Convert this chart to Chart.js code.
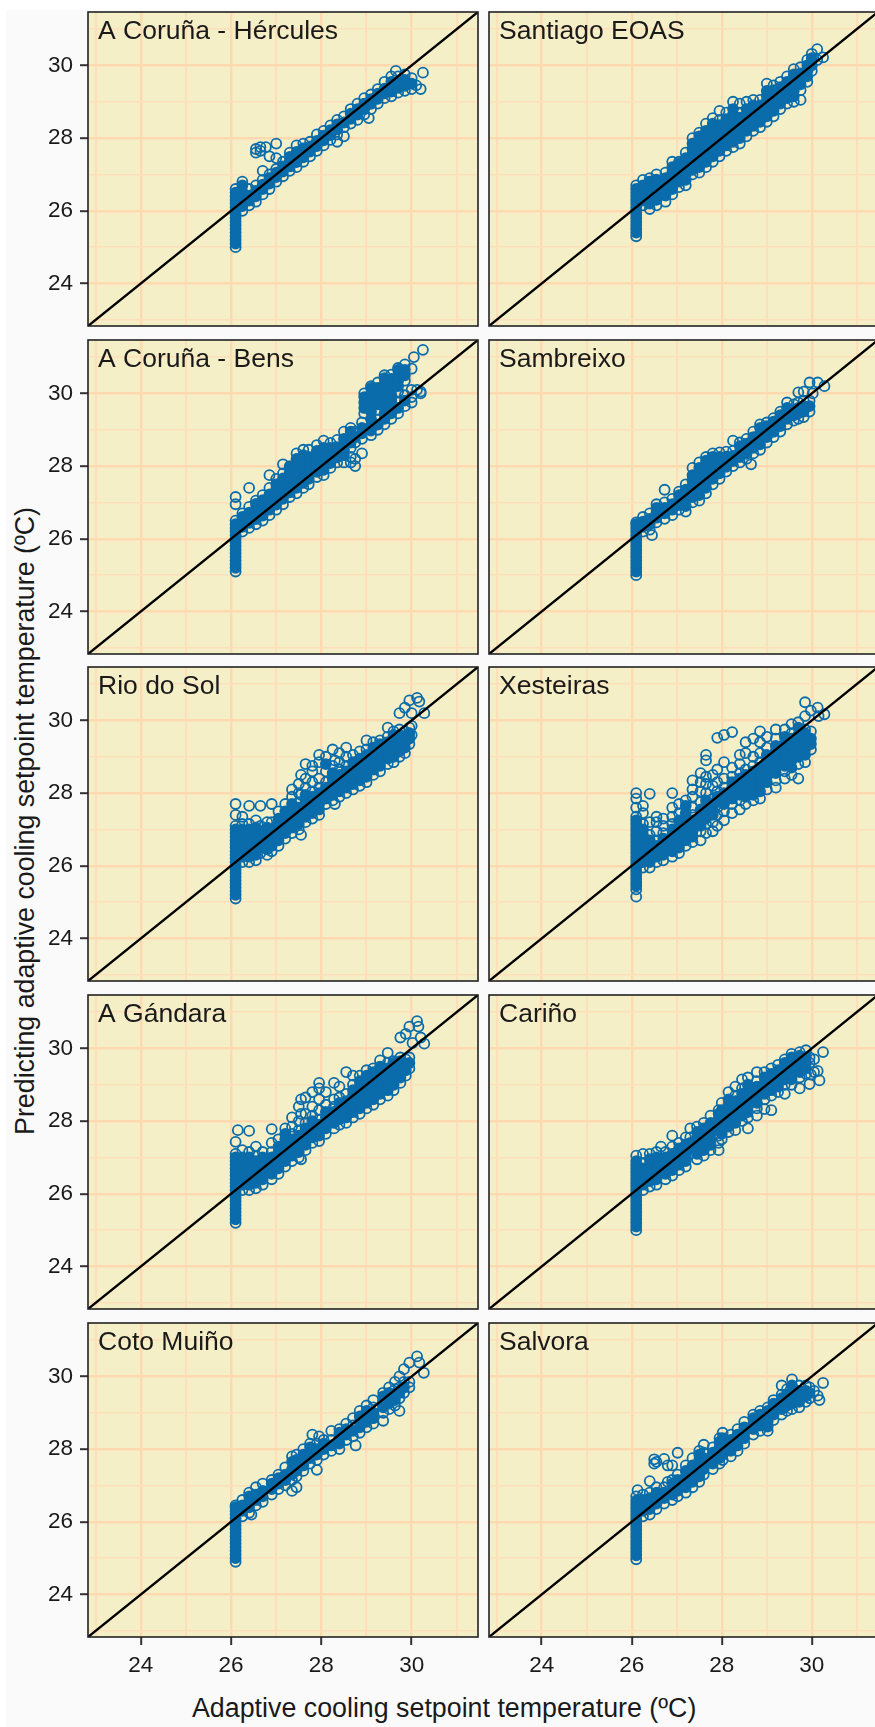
<!DOCTYPE html>
<html>
<head>
<meta charset="utf-8">
<script src="https://cdn.jsdelivr.net/npm/chart.js@4"></script>
<style>
    html, body { margin: 0; padding: 0; background: #fff; }
    #page { position: relative; width: 875px; height: 1727px; overflow: hidden; font-family: "Liberation Sans", Arial, sans-serif; color: #1a1a1a; }
    #sheet { position: absolute; left: 6px; top: 10px; right: 0; bottom: 0; background: #fafafa; }
    canvas { position: absolute; }
    #xTitle { position: absolute; left: 192px; top: 1693px; font-size: 26.8px; white-space: nowrap; }
    #yTitle { position: absolute; left: 25px; top: 821px; font-size: 26.8px; white-space: nowrap; transform: translate(-50%, -50%) rotate(-90deg); }
</style>
</head>
<body>
<div id="page">
    <div id="sheet"></div>
    <div id="xTitle">Adaptive cooling setpoint temperature (ºC)</div>
    <div id="yTitle">Predicting adaptive cooling setpoint temperature (ºC)</div>
</div>
<script>
// each row: x value, then the y values read at that x
const herculesPoints = [
    [26.1, 25, 25.1, 25.2, 25.3, 25.4, 25.5, 25.6, 25.7, 25.8, 25.9, 26, 26.1, 26.2, 26.3, 26.4, 26.5, 26.6],
    [26.25, 26, 26.13, 26.26, 26.39, 26.52, 26.8, 26.7],
    [26.4, 26.15, 26.28, 26.42, 26.6],
    [26.55, 26.25, 26.4, 26.55, 26.7, 27.7, 27.6],
    [26.65, 27.75, 27.65],
    [26.7, 26.45, 26.6, 26.72, 26.85, 27.1],
    [26.77, 27.75],
    [26.85, 26.6, 26.75, 26.9, 27, 27.5],
    [27, 26.8, 26.93, 27.05, 27.15, 27.85, 27.45],
    [27.15, 26.95, 27.08, 27.22, 27.35],
    [27.3, 27.1, 27.22, 27.36, 27.48, 27.6],
    [27.45, 27.2, 27.34, 27.48, 27.62, 27.8],
    [27.6, 27.35, 27.47, 27.6, 27.72, 27.85],
    [27.75, 27.5, 27.63, 27.77, 27.9],
    [27.9, 27.65, 27.78, 27.92, 28.1],
    [28.05, 27.8, 27.94, 28.07, 28.2],
    [28.2, 27.95, 28.08, 28.22, 28.35],
    [28.35, 28.1, 28.24, 28.38, 28.5, 27.9],
    [28.5, 28.3, 28.43, 28.6, 28.05],
    [28.65, 28.4, 28.53, 28.67, 28.8],
    [28.8, 28.5, 28.65, 28.8, 28.95],
    [28.95, 28.65, 28.8, 28.95, 29.1],
    [29.05, 28.55],
    [29.1, 28.8, 28.94, 29.07, 29.2],
    [29.25, 28.95, 29.08, 29.22, 29.35],
    [29.4, 29.1, 29.23, 29.36, 29.55],
    [29.55, 29.15, 29.28, 29.42, 29.55, 29.7],
    [29.65, 29.85],
    [29.7, 29.25, 29.38, 29.52, 29.7],
    [29.85, 29.3, 29.44, 29.6, 29.75],
    [30, 29.35, 29.5, 29.65],
    [30.1, 29.45],
    [30.2, 29.35],
    [30.25, 29.8]
];
const santiagoPoints = [
    [26.1, 25.3, 25.4, 25.5, 25.6, 25.7, 25.8, 25.9, 26, 26.1, 26.2, 26.3, 26.4, 26.5, 26.6, 26.7],
    [26.25, 26.15, 26.28, 26.42, 26.56, 26.7, 26.85],
    [26.4, 26.05, 26.2, 26.35, 26.5, 26.65, 26.8, 26.9],
    [26.55, 26.15, 26.3, 26.44, 26.58, 26.72, 26.86, 27],
    [26.75, 26.25, 26.42, 26.58, 26.74, 26.9, 27.05],
    [26.9, 26.45, 26.6, 26.75, 26.9, 27.05, 27.2, 27.35],
    [27.05, 26.65, 26.8, 26.94, 27.08, 27.22, 27.35, 27.3],
    [27.2, 26.7, 26.85, 27, 27.15, 27.3, 27.45, 27.6],
    [27.35, 27, 27.13, 27.28, 27.42, 27.56, 27.7, 27.85, 28],
    [27.5, 27.05, 27.2, 27.34, 27.48, 27.62, 27.76, 27.9, 28.05, 28.15],
    [27.65, 27.2, 27.35, 27.5, 27.64, 27.78, 27.92, 28.06, 28.2, 28.4],
    [27.8, 27.35, 27.5, 27.65, 27.8, 27.94, 28.08, 28.22, 28.4, 28.55],
    [27.95, 27.5, 27.65, 27.8, 27.94, 28.08, 28.22, 28.36, 28.5, 28.75],
    [28.1, 27.65, 27.8, 27.95, 28.1, 28.25, 28.38, 28.52, 28.7],
    [28.25, 27.75, 27.9, 28.05, 28.2, 28.35, 28.5, 28.65, 28.8, 29],
    [28.4, 27.85, 28, 28.14, 28.28, 28.42, 28.56, 28.7, 28.95],
    [28.55, 28.05, 28.2, 28.35, 28.5, 28.65, 28.8, 29],
    [28.7, 28.2, 28.34, 28.48, 28.62, 28.76, 28.9, 29.05],
    [28.85, 28.3, 28.45, 28.6, 28.75, 28.9, 29.05],
    [29, 28.45, 28.6, 28.74, 28.88, 29.02, 29.16, 29.3, 29.5],
    [29.15, 28.6, 28.75, 28.9, 29.05, 29.2, 29.32, 29.45],
    [29.3, 28.8, 28.95, 29.1, 29.25, 29.4, 29.55],
    [29.45, 28.95, 29.1, 29.25, 29.4, 29.55, 29.7],
    [29.6, 29, 29.15, 29.3, 29.45, 29.6, 29.75, 29.9],
    [29.75, 29.05, 29.32, 29.48, 29.62, 29.78, 29.95],
    [29.9, 29.55, 29.7, 29.85, 30, 30.15],
    [30, 29.85, 30, 30.2, 30.32],
    [30.12, 30.45, 30.15],
    [30.25, 30.22]
];
const bensPoints = [
    [26.1, 25.1, 25.2, 25.3, 25.4, 25.5, 25.6, 25.7, 25.8, 25.9, 26, 26.1, 26.2, 26.3, 26.4, 26.5, 26.95, 27.15],
    [26.25, 26.2, 26.33, 26.46, 26.6, 26.7],
    [26.4, 26.3, 26.44, 26.58, 26.72, 26.88, 27.4],
    [26.55, 26.4, 26.54, 26.68, 26.82, 26.96, 27.05],
    [26.7, 26.5, 26.64, 26.78, 26.92, 27.06, 27.2],
    [26.85, 26.65, 26.8, 26.94, 27.08, 27.22, 27.4, 27.75],
    [27, 26.8, 26.94, 27.08, 27.22, 27.36, 27.5, 27.65],
    [27.15, 26.95, 27.1, 27.24, 27.38, 27.52, 27.66, 27.8, 28.05],
    [27.3, 27.15, 27.28, 27.42, 27.56, 27.7, 27.84, 27.98, 28],
    [27.45, 27.25, 27.4, 27.55, 27.7, 27.85, 28, 28.2, 28.35],
    [27.6, 27.4, 27.54, 27.68, 27.82, 27.96, 28.12, 28.3, 28.45],
    [27.72, 27.5, 27.65, 27.8, 27.95, 28.1, 28.25, 28.45],
    [27.9, 27.7, 27.84, 27.98, 28.12, 28.26, 28.42, 28.58],
    [28.05, 27.75, 27.9, 28.05, 28.2, 28.35, 28.5, 28.7],
    [28.2, 27.95, 28.08, 28.22, 28.36, 28.5, 28.64],
    [28.35, 28.1, 28.24, 28.38, 28.52, 28.72],
    [28.5, 28.1, 28.3, 28.45, 28.6, 28.75, 28.95],
    [28.65, 28.1, 28.25, 28.5, 28.65, 28.8, 28.95, 29.05],
    [28.75, 28, 28.2, 28.65, 28.8, 28.95],
    [28.9, 28.35, 28.75, 28.9, 29.05, 29.2],
    [28.95, 29.45, 29.6, 29.75, 29.9, 30],
    [29.1, 28.85, 28.98, 29.12, 29.3, 29.5, 29.66, 29.82, 29.98, 30.15, 30.2],
    [29.25, 29, 29.14, 29.28, 29.55, 29.7, 29.85, 30, 30.15, 30.3],
    [29.4, 29.15, 29.3, 29.45, 29.62, 29.78, 29.94, 30.1, 30.26, 30.42, 30.5],
    [29.55, 29.3, 29.45, 29.6, 29.8, 29.95, 30.1, 30.25, 30.4, 30.52],
    [29.7, 29.45, 29.6, 29.75, 30.05, 30.2, 30.35, 30.5, 30.65, 30.7],
    [29.85, 29.65, 29.8, 29.95, 30.35, 30.5, 30.65, 30.8],
    [30, 29.75, 29.9, 30.1, 30.68],
    [30.05, 31],
    [30.12, 30.1],
    [30.2, 30, 30.05],
    [30.25, 31.2]
];
const sambreixoPoints = [
    [26.1, 25, 25.1, 25.2, 25.3, 25.4, 25.5, 25.6, 25.7, 25.8, 25.9, 26, 26.1, 26.2, 26.3, 26.4, 26.45],
    [26.25, 26.2, 26.33, 26.47, 26.6],
    [26.4, 26.25, 26.4, 26.55, 26.7],
    [26.45, 26.1],
    [26.55, 26.45, 26.58, 26.72, 26.85, 26.95],
    [26.73, 26.55, 26.7, 26.85, 27, 27.35],
    [26.9, 26.65, 26.8, 26.95, 27.1],
    [27.05, 26.8, 26.93, 27.06, 27.2, 27.3],
    [27.2, 26.75, 26.9, 27.05, 27.2, 27.35, 27.5],
    [27.35, 27, 27.15, 27.3, 27.45, 27.6, 27.75, 27.95],
    [27.5, 27.05, 27.2, 27.35, 27.5, 27.65, 27.8, 27.95, 28.1],
    [27.65, 27.25, 27.4, 27.55, 27.7, 27.85, 28, 28.15, 28.25],
    [27.8, 27.5, 27.65, 27.8, 27.95, 28.1, 28.25, 28.35],
    [27.95, 27.65, 27.8, 27.95, 28.1, 28.25, 28.38],
    [28.1, 27.85, 27.98, 28.12, 28.26, 28.4],
    [28.25, 28, 28.14, 28.28, 28.42, 28.7],
    [28.4, 28.1, 28.25, 28.4, 28.55, 28.65],
    [28.55, 28.2, 28.34, 28.48, 28.62, 28.75],
    [28.65, 28.05],
    [28.7, 28.35, 28.5, 28.65, 28.8, 28.95],
    [28.85, 28.45, 28.6, 28.75, 28.9, 29.05, 29.15],
    [29, 28.65, 28.8, 28.95, 29.1, 29.2],
    [29.15, 28.8, 28.94, 29.08, 29.22, 29.32],
    [29.3, 28.95, 29.1, 29.25, 29.4, 29.5],
    [29.45, 29.15, 29.3, 29.45, 29.6, 29.75],
    [29.6, 29.25, 29.4, 29.55, 29.7],
    [29.7, 29.3, 29.45, 29.6, 29.75, 30.03],
    [29.82, 29.35, 29.5, 29.65, 29.8, 30.05],
    [29.95, 29.5, 29.65, 29.8, 30.3],
    [30.02, 30],
    [30.13, 30.3],
    [30.28, 30.2]
];
const rioPoints = [
    [26.1, 25.1, 25.2, 25.3, 25.4, 25.5, 25.6, 25.7, 25.8, 25.9, 26, 26.1, 26.2, 26.3, 26.4, 26.5, 26.6, 26.7, 26.8, 26.9, 27, 27.1, 27.4, 27.7],
    [26.25, 26.1, 26.25, 26.4, 26.55, 26.7, 26.85, 27, 27.15, 27.35],
    [26.4, 26.1, 26.25, 26.4, 26.55, 26.7, 26.85, 27, 27.15, 27.65],
    [26.55, 26.15, 26.3, 26.45, 26.6, 26.75, 26.9, 27.05, 27.25],
    [26.65, 26.35, 26.5, 26.65, 26.8, 26.95, 27.1, 27.65],
    [26.8, 26.3, 26.45, 26.6, 26.75, 26.9, 27.05, 27.2],
    [26.9, 26.4, 26.55, 26.7, 26.85, 27, 27.2, 27.7],
    [27.05, 26.55, 26.7, 26.85, 27, 27.15, 27.3, 27.5],
    [27.2, 26.75, 26.9, 27.05, 27.2, 27.35, 27.5, 27.7],
    [27.35, 26.9, 27.05, 27.2, 27.35, 27.5, 27.7, 27.9, 28.1],
    [27.5, 27, 27.15, 27.3, 27.45, 27.6, 27.75, 28, 28.25],
    [27.55, 26.85, 27.95, 28.5],
    [27.65, 27.2, 27.35, 27.5, 27.65, 27.8, 27.95, 28.15, 28.4, 28.8],
    [27.8, 27.3, 27.45, 27.6, 27.75, 27.9, 28.05, 28.3, 28.6, 28.75],
    [27.95, 27.4, 27.55, 27.7, 27.85, 28, 28.15, 28.4, 28.85, 29.05],
    [28.1, 27.7, 27.85, 28, 28.15, 28.3, 28.6, 28.8, 29],
    [28.25, 27.8, 27.95, 28.1, 28.25, 28.4, 28.55, 28.75, 29.2],
    [28.3, 27.7, 28.9],
    [28.4, 27.9, 28.05, 28.2, 28.35, 28.5, 28.65, 28.85, 29.1],
    [28.55, 28, 28.15, 28.3, 28.45, 28.6, 28.75, 29, 29.25],
    [28.7, 28.1, 28.25, 28.4, 28.55, 28.7, 28.85, 29.05],
    [28.85, 28.2, 28.35, 28.5, 28.65, 28.8, 28.95, 29.15],
    [29, 28.3, 28.45, 28.6, 28.75, 28.9, 29.05, 29.2, 29.45],
    [29.15, 28.5, 28.65, 28.8, 28.95, 29.1, 29.25, 29.4],
    [29.3, 28.6, 28.75, 28.9, 29.05, 29.2, 29.35, 29.45],
    [29.47, 28.8, 28.95, 29.1, 29.25, 29.4, 29.55, 29.8],
    [29.6, 28.85, 29, 29.15, 29.3, 29.45, 29.6, 29.7],
    [29.73, 29, 29.15, 29.3, 29.45, 29.6, 29.75, 30.2],
    [29.85, 29.1, 29.25, 29.4, 29.55, 29.7, 30.35],
    [29.95, 29.35, 29.5, 29.65, 29.8, 30.55],
    [30, 29.6, 29.85, 30.2],
    [30.12, 30.62],
    [30.17, 30.52],
    [30.28, 30.2]
];
const xesteirasPoints = [
    [26.1, 25.15, 25.35, 25.45, 25.55, 25.65, 25.75, 25.85, 25.95, 26.05, 26.15, 26.25, 26.35, 26.45, 26.55, 26.65, 26.75, 26.85, 26.95, 27.05, 27.15, 27.25, 27.35, 27.6, 27.85, 28],
    [26.25, 25.95, 26.1, 26.25, 26.4, 26.55, 26.7, 26.85, 27, 27.15, 27.45, 27.65],
    [26.4, 25.95, 26.1, 26.25, 26.4, 26.55, 26.7, 26.85, 27.2, 27.98],
    [26.55, 26.1, 26.25, 26.4, 26.55, 26.7, 26.95, 27.2, 27.35],
    [26.7, 26.15, 26.3, 26.45, 26.6, 26.75, 26.9, 27.1, 27.3],
    [26.9, 26.25, 26.4, 26.55, 26.7, 26.85, 27, 27.15, 27.35, 27.6, 28],
    [27.05, 26.35, 26.5, 26.65, 26.8, 26.95, 27.1, 27.25, 27.45, 27.7],
    [27.2, 26.55, 26.7, 26.85, 27, 27.15, 27.3, 27.45, 27.65, 27.8],
    [27.35, 26.65, 26.8, 26.95, 27.1, 27.25, 27.4, 27.6, 27.9, 28.1, 28.35],
    [27.53, 26.7, 26.95, 27.1, 27.25, 27.4, 27.55, 27.75, 28.05, 28.3, 28.55],
    [27.65, 26.9, 27.15, 27.3, 27.45, 27.6, 27.8, 28, 28.25, 28.45, 28.9, 29.05],
    [27.8, 26.95, 27.2, 27.4, 27.55, 27.7, 27.85, 28.2, 28.5],
    [27.9, 27.1, 27.4, 27.6, 27.75, 27.9, 28.05, 28.3, 28.65, 29.52],
    [28.05, 27.25, 27.5, 27.7, 27.85, 28, 28.15, 28.4, 28.85, 29.6],
    [28.23, 27.45, 27.7, 27.85, 28, 28.15, 28.3, 28.45, 28.7, 29.68],
    [28.4, 27.55, 27.8, 27.95, 28.1, 28.25, 28.4, 28.55, 28.8, 29.05],
    [28.53, 27.7, 27.9, 28.05, 28.2, 28.35, 28.5, 28.65, 29.1, 29.4],
    [28.7, 27.8, 27.95, 28.15, 28.3, 28.45, 28.6, 28.75, 29, 29.5],
    [28.85, 27.85, 28.05, 28.25, 28.4, 28.55, 28.7, 28.85, 29.1, 29.4, 29.7],
    [29, 28.1, 28.3, 28.45, 28.6, 28.75, 28.9, 29.05, 29.25, 29.55],
    [29.2, 28.15, 28.35, 28.55, 28.7, 28.85, 29, 29.15, 29.3, 29.5, 29.75],
    [29.4, 28.4, 28.6, 28.75, 28.9, 29.05, 29.2, 29.35, 29.55, 29.75],
    [29.55, 28.5, 28.7, 28.9, 29.05, 29.2, 29.35, 29.5, 29.65, 29.9],
    [29.7, 28.4, 28.8, 29, 29.15, 29.3, 29.45, 29.6, 29.8, 29.95],
    [29.85, 28.85, 29.05, 29.2, 29.35, 29.5, 29.65, 29.75, 30.12, 30.5],
    [29.98, 29.2, 29.35, 29.5, 29.7, 30.27],
    [30.13, 30.35],
    [30.15, 30.12],
    [30.28, 30.17]
];
const gandaraPoints = [
    [26.1, 25.2, 25.3, 25.4, 25.5, 25.6, 25.7, 25.8, 25.9, 26, 26.1, 26.2, 26.3, 26.4, 26.5, 26.6, 26.7, 26.8, 26.9, 27, 27.1, 27.43],
    [26.15, 27.75],
    [26.25, 26.1, 26.25, 26.4, 26.55, 26.7, 26.85, 27, 27.2],
    [26.4, 26.1, 26.25, 26.4, 26.55, 26.7, 26.85, 27, 27.15, 27.73],
    [26.55, 26.15, 26.3, 26.45, 26.6, 26.75, 26.9, 27.05, 27.3],
    [26.7, 26.25, 26.4, 26.55, 26.7, 26.85, 27, 27.15],
    [26.9, 26.4, 26.55, 26.7, 26.85, 27, 27.15, 27.4, 27.78],
    [27.05, 26.55, 26.7, 26.85, 27, 27.15, 27.3, 27.5],
    [27.2, 26.75, 26.9, 27.05, 27.2, 27.35, 27.5, 27.65, 27.8],
    [27.35, 26.9, 27.05, 27.2, 27.35, 27.5, 27.65, 27.85, 28.1],
    [27.5, 27, 27.15, 27.3, 27.45, 27.6, 27.75, 28, 28.4],
    [27.55, 26.95, 28.2, 28.6],
    [27.65, 27.2, 27.35, 27.5, 27.65, 27.8, 27.95, 28.2, 28.65],
    [27.8, 27.4, 27.55, 27.7, 27.85, 28, 28.15, 28.4, 28.8],
    [27.95, 27.45, 27.6, 27.75, 27.9, 28.05, 28.3, 28.6, 28.9, 29.05],
    [28.1, 27.65, 27.8, 27.95, 28.1, 28.25, 28.45, 28.8],
    [28.28, 27.8, 27.95, 28.1, 28.25, 28.4, 28.6, 29.05],
    [28.4, 27.9, 28.05, 28.2, 28.35, 28.5, 28.65, 28.95],
    [28.55, 27.95, 28.1, 28.25, 28.4, 28.55, 28.75, 29.35],
    [28.7, 28.1, 28.25, 28.4, 28.55, 28.7, 28.85, 29, 29.25],
    [28.85, 28.2, 28.35, 28.5, 28.65, 28.8, 28.95, 29.1, 29.25],
    [29, 28.35, 28.5, 28.65, 28.8, 28.95, 29.1, 29.25, 29.4],
    [29.15, 28.45, 28.6, 28.75, 28.9, 29.05, 29.2, 29.35, 29.45],
    [29.3, 28.6, 28.75, 28.9, 29.05, 29.2, 29.35, 29.5, 29.67],
    [29.47, 28.7, 28.85, 29, 29.15, 29.3, 29.45, 29.6, 29.88],
    [29.6, 28.85, 29, 29.15, 29.3, 29.45, 29.6, 29.65],
    [29.75, 29.05, 29.2, 29.35, 29.5, 29.65, 29.75, 30.3],
    [29.87, 29.25, 29.4, 29.55, 29.7, 30.4],
    [29.95, 29.45, 29.6, 29.75, 30.6],
    [30.02, 30.15],
    [30.12, 30.75],
    [30.15, 30.6],
    [30.2, 30.3],
    [30.28, 30.13]
];
const carinoPoints = [
    [26.1, 25, 25.1, 25.2, 25.3, 25.4, 25.5, 25.6, 25.7, 25.8, 25.9, 26, 26.1, 26.2, 26.3, 26.4, 26.5, 26.6, 26.7, 26.8, 26.9, 27.05],
    [26.25, 26.1, 26.25, 26.4, 26.55, 26.7, 26.85, 27.1],
    [26.4, 26.2, 26.35, 26.5, 26.65, 26.8, 26.95, 27.1],
    [26.55, 26.25, 26.4, 26.55, 26.7, 26.85, 27, 27.15],
    [26.65, 27.3],
    [26.75, 26.4, 26.55, 26.7, 26.85, 27, 27.15],
    [26.9, 26.5, 26.65, 26.8, 26.95, 27.1, 27.3, 27.6],
    [27.05, 26.65, 26.8, 26.95, 27.1, 27.25, 27.4],
    [27.2, 26.75, 26.9, 27.05, 27.2, 27.35, 27.55],
    [27.3, 27.1, 27.25, 27.4, 27.55, 27.8],
    [27.45, 26.95, 27.1, 27.25, 27.4, 27.55, 27.7, 27.85],
    [27.6, 27.05, 27.2, 27.35, 27.5, 27.65, 27.8, 27.95],
    [27.75, 27.2, 27.35, 27.5, 27.65, 27.8, 27.95, 28.15],
    [27.93, 27.2, 27.4, 27.6, 27.75, 27.9, 28.05, 28.2, 28.3],
    [28, 27.5, 27.65, 27.8, 28, 28.15, 28.3, 28.5],
    [28.15, 27.7, 27.85, 28, 28.15, 28.3, 28.45, 28.6, 28.8],
    [28.3, 27.75, 27.95, 28.1, 28.25, 28.4, 28.55, 28.7, 28.95],
    [28.45, 28, 28.15, 28.3, 28.45, 28.6, 28.75, 28.9, 29.15],
    [28.58, 27.8, 28.1, 28.25, 28.4, 28.55, 28.7, 28.85, 29, 29.2],
    [28.78, 28.15, 28.35, 28.5, 28.65, 28.8, 28.95, 29.1, 29.35],
    [28.95, 28.33, 28.6, 28.75, 28.9, 29.05, 29.2, 29.35],
    [29.1, 28.3, 28.7, 28.85, 29, 29.15, 29.3, 29.45],
    [29.25, 28.8, 28.95, 29.1, 29.25, 29.4, 29.55],
    [29.4, 28.75, 29, 29.15, 29.3, 29.45, 29.6, 29.7],
    [29.55, 29, 29.15, 29.3, 29.45, 29.6, 29.75, 29.85],
    [29.73, 28.9, 29.2, 29.35, 29.5, 29.65, 29.8, 29.9],
    [29.87, 29.3, 29.45, 29.6, 29.75, 29.95],
    [29.95, 29.02, 29.6, 29.75],
    [29.98, 29.28],
    [30.05, 29.35, 29.7],
    [30.13, 29.38],
    [30.17, 29.12],
    [30.25, 29.9]
];
const cotoPoints = [
    [26.1, 24.9, 25, 25.1, 25.2, 25.3, 25.4, 25.5, 25.6, 25.7, 25.8, 25.9, 26, 26.1, 26.2, 26.3, 26.4, 26.45],
    [26.25, 26.15, 26.3, 26.45, 26.6],
    [26.4, 26.25, 26.4, 26.55, 26.7, 26.8],
    [26.45, 26.2],
    [26.55, 26.45, 26.6, 26.75, 26.95],
    [26.7, 26.55, 26.7, 26.85, 27.05],
    [26.9, 26.75, 26.9, 27.05, 27.15],
    [27.05, 26.9, 27.05, 27.2, 27.3],
    [27.2, 27, 27.15, 27.3, 27.5],
    [27.35, 26.85, 27.15, 27.3, 27.45, 27.65, 27.8],
    [27.45, 26.95, 27.25, 27.4, 27.55, 27.7, 27.85],
    [27.6, 27.4, 27.55, 27.7, 27.85, 28],
    [27.75, 27.6, 27.75, 27.9, 28.05, 28.15],
    [27.8, 28.4],
    [27.9, 27.43, 27.7, 27.85, 28, 28.15],
    [27.95, 28.35],
    [28.05, 27.85, 28, 28.15, 28.25],
    [28.22, 27.95, 28.1, 28.25, 28.5],
    [28.4, 28, 28.15, 28.3, 28.45, 28.55],
    [28.55, 28.25, 28.4, 28.55, 28.7],
    [28.7, 28.35, 28.5, 28.65, 28.85],
    [28.76, 28.1],
    [28.85, 28.45, 28.6, 28.75, 28.9, 29.05],
    [29, 28.6, 28.75, 28.9, 29.05, 29.2],
    [29.15, 28.7, 28.85, 29, 29.15, 29.35],
    [29.37, 28.78, 29, 29.15, 29.3, 29.45, 29.55],
    [29.5, 29.1, 29.25, 29.4, 29.55, 29.7],
    [29.63, 29.2, 29.35, 29.5, 29.65, 29.85],
    [29.73, 29.05, 29.4, 29.55, 29.7, 30],
    [29.83, 29.55, 29.7, 29.85, 30.2],
    [29.95, 29.7, 29.85, 30.38],
    [30.12, 30.55],
    [30.17, 30.38],
    [30.27, 30.1]
];
const salvoraPoints = [
    [26.1, 24.97, 25.08, 25.18, 25.28, 25.38, 25.48, 25.58, 25.68, 25.78, 25.88, 25.98, 26.08, 26.18, 26.28, 26.38, 26.48, 26.58, 26.7],
    [26.13, 26.87],
    [26.25, 26.15, 26.3, 26.45, 26.6, 26.75],
    [26.4, 26.2, 26.35, 26.5, 26.65, 26.8, 27.12],
    [26.5, 27.72, 27.6],
    [26.55, 26.35, 26.5, 26.65, 26.8, 26.95, 27.65],
    [26.72, 26.5, 26.65, 26.8, 26.95, 27.73],
    [26.8, 27.55, 27.1],
    [26.9, 26.6, 26.75, 26.9, 27.05, 27.15, 27.55],
    [27.02, 26.7, 26.85, 27, 27.15, 27.3, 27.9],
    [27.2, 26.8, 26.95, 27.1, 27.25, 27.4, 27.55],
    [27.35, 26.95, 27.1, 27.25, 27.4, 27.55, 27.75],
    [27.5, 27.1, 27.25, 27.4, 27.55, 27.7, 27.85, 27.95],
    [27.6, 27.3, 27.45, 27.6, 27.75, 27.9, 28.12],
    [27.8, 27.45, 27.6, 27.75, 27.9, 28.05],
    [27.95, 27.6, 27.75, 27.9, 28.05, 28.2, 28.3],
    [28.02, 27.7, 27.85, 28, 28.15, 28.3, 28.45],
    [28.2, 27.8, 27.95, 28.1, 28.25, 28.4],
    [28.35, 27.95, 28.1, 28.25, 28.4, 28.55],
    [28.5, 28.15, 28.3, 28.45, 28.6, 28.75],
    [28.7, 28.4, 28.55, 28.7, 28.85, 28.95],
    [28.85, 28.5, 28.65, 28.8, 28.95, 29.05],
    [29.02, 28.5, 28.62, 28.75, 28.9, 29.05, 29.15],
    [29.15, 28.8, 28.95, 29.1, 29.25, 29.35],
    [29.33, 28.95, 29.1, 29.25, 29.4, 29.5, 29.75],
    [29.45, 29.05, 29.2, 29.35, 29.5, 29.65],
    [29.56, 29.1, 29.25, 29.4, 29.55, 29.75, 29.92],
    [29.72, 29.15, 29.3, 29.45, 29.6, 29.75],
    [29.87, 29.3, 29.45, 29.6, 29.75],
    [29.95, 29.4, 29.55, 29.7],
    [30.05, 29.6],
    [30.13, 29.47],
    [30.17, 29.35],
    [30.25, 29.82]
];

const panelNames = ["A Coruña - Hércules", "Santiago EOAS", "A Coruña - Bens", "Sambreixo", "Rio do Sol", "Xesteiras", "A Gándara", "Cariño", "Coto Muiño", "Salvora"];
const panelPoints = [herculesPoints, santiagoPoints, bensPoints, sambreixoPoints, rioPoints, xesteirasPoints, gandaraPoints, carinoPoints, cotoPoints, salvoraPoints];
const axisMin = 22.83;
const axisMax = 31.47;
const rowTops = [12, 340, 667, 995, 1323];
const panelHeight = 314;
const markColor = "#0a6cab";

const frameAndName = {
    id: "frameAndName",
    beforeDraw(chart) {
        const { ctx, chartArea: a } = chart;
        ctx.save();
        ctx.fillStyle = "#f5efc8";
        ctx.fillRect(a.left, a.top, a.width, a.height);
        ctx.restore();
    },
    afterDraw(chart, args, opts) {
        const { ctx, chartArea: a } = chart;
        ctx.save();
        ctx.strokeStyle = "#222";
        ctx.lineWidth = 1.6;
        ctx.strokeRect(a.left, a.top, a.width, a.height);
        ctx.fillStyle = "#1a1a1a";
        ctx.font = '26.5px "Liberation Sans"';
        ctx.fillText(opts.name, a.left + 10, a.top + 27);
        ctx.restore();
    }
};

// marks with close neighbours on both sides sit inside the solid mass of the cloud
function toPoints(rows) {
    return rows.flatMap(row => {
        const ys = row.slice(1).sort((a, b) => a - b);
        return ys.map((y, k) => ({
            x: row[0],
            y: y,
            inner: k > 0 && k < ys.length - 1 && y - ys[k - 1] < 0.2 && ys[k + 1] - y < 0.2
        }));
    });
}

function makeScale(showLabels, size, isX) {
    return {
        type: "linear",
        min: axisMin,
        max: axisMax,
        afterFit: scale => {
            if (isX) scale.height = size;
            else scale.width = size;
            scale.paddingTop = 0;
            scale.paddingBottom = 0;
            scale.paddingLeft = 0;
            scale.paddingRight = 0;
        },
        border: { display: false },
        grid: {
            color: ctx => ctx.tick.value % 2 === 0 ? "#ffd9b0" : "#fddfba",
            lineWidth: ctx => ctx.tick.value % 2 === 0 ? 2.4 : (isX ? 2.2 : 1.6),
            drawTicks: showLabels,
            tickLength: 8,
            tickColor: ctx => ctx.tick.value % 2 === 0 ? "#333" : "rgba(0,0,0,0)",
            tickWidth: 2
        },
        ticks: {
            display: showLabels,
            stepSize: 1,
            includeBounds: false,
            autoSkip: false,
            maxRotation: 0,
            padding: 7,
            color: "#1a1a1a",
            font: { family: '"Liberation Sans"', size: 22.5 },
            callback: value => value % 2 === 0 ? value : ""
        }
    };
}

panelNames.forEach((name, i) => {
    const col = i % 2;
    const row = Math.floor(i / 2);
    const isBottom = row === rowTops.length - 1;
    const yAxisWidth = col === 0 ? 56 : 0;
    const xAxisHeight = isBottom ? 50 : 0;

    const canvas = document.createElement("canvas");
    const width = col === 0 ? 450 : 393;
    const height = panelHeight + xAxisHeight + 4;
    canvas.width = width;
    canvas.height = height;
    canvas.style.left = (col === 0 ? 30 : 487) + "px";
    canvas.style.top = (rowTops[row] - 2) + "px";
    canvas.style.width = width + "px";
    canvas.style.height = height + "px";
    document.getElementById("page").appendChild(canvas);

    const points = toPoints(panelPoints[i]);

    new Chart(canvas.getContext("2d"), {
        type: "scatter",
        data: {
            datasets: [
                {
                    data: [{ x: axisMin, y: axisMin }, { x: axisMax, y: axisMax }],
                    showLine: true,
                    borderColor: "#000",
                    borderWidth: 2.4,
                    pointRadius: 0,
                    order: 0
                },
                {
                    data: points,
                    pointStyle: "circle",
                    pointRadius: 5,
                    pointBorderWidth: 1.8,
                    pointBorderColor: markColor,
                    pointBackgroundColor: points.map(p => p.inner ? markColor : "rgba(0,0,0,0)"),
                    order: 1
                }
            ]
        },
        options: {
            responsive: false,
            animation: false,
            devicePixelRatio: 1,
            layout: { autoPadding: false, padding: 2 },
            scales: {
                x: makeScale(isBottom, xAxisHeight, true),
                y: makeScale(col === 0, yAxisWidth, false)
            },
            plugins: {
                legend: { display: false },
                tooltip: { enabled: false },
                frameAndName: { name: name }
            }
        },
        plugins: [frameAndName]
    });
});
</script>
</body>
</html>
